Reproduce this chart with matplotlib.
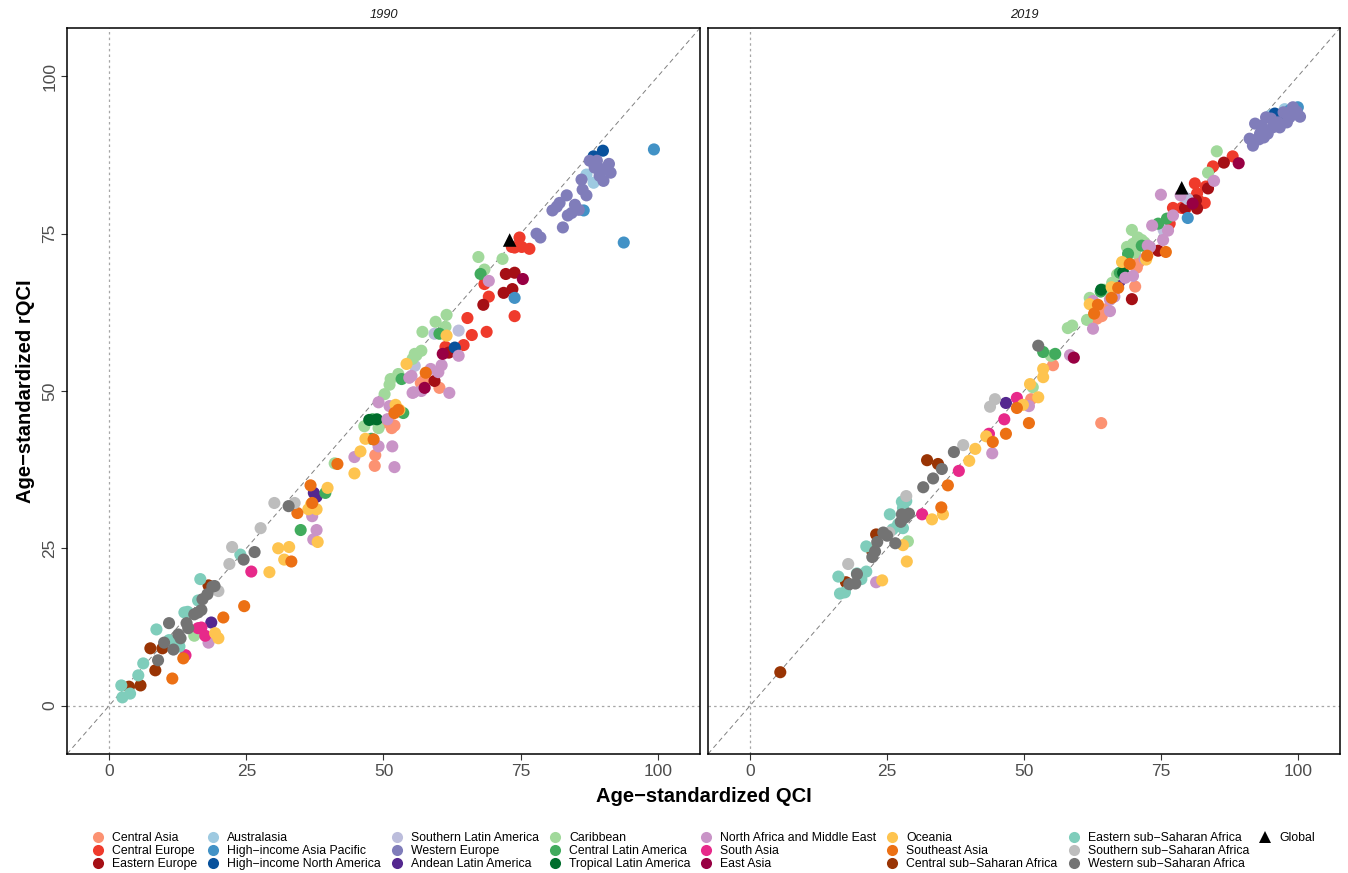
import matplotlib
matplotlib.use("Agg")
import matplotlib.pyplot as plt
from matplotlib.lines import Line2D

plt.rcParams['font.family'] = ['Liberation Sans', 'DejaVu Sans']

# ---------------- legend / region definitions ----------------
region_names = [
    "Central Asia", "Central Europe", "Eastern Europe",
    "Australasia", "High−income Asia Pacific", "High−income North America",
    "Southern Latin America", "Western Europe", "Andean Latin America",
    "Caribbean", "Central Latin America", "Tropical Latin America",
    "North Africa and Middle East", "South Asia", "East Asia",
    "Oceania", "Southeast Asia", "Central sub−Saharan Africa",
    "Eastern sub−Saharan Africa", "Southern sub−Saharan Africa", "Western sub−Saharan Africa",
]
region_colors = [
    "#FC9272", "#EF3B2C", "#A50F15",
    "#9ECAE1", "#4292C6", "#08519C",
    "#BCBDDC", "#807DBA", "#54278F",
    "#A1D99B", "#41AB5D", "#006D2C",
    "#C994C7", "#E7298A", "#980043",
    "#FEC44F", "#EC7014", "#993404",
    "#7FCDBB", "#BDBDBD", "#737373",
]

years = ["1990", "2019"]
ticks = [0, 25, 50, 75, 100]

# ---------------- data: (QCI, rQCI) per region, 1990 ----------------
central_asia_1990 = [(56.8, 51.3), (60.2, 50.5), (50.9, 45.5), (51.5, 44.1), (48.5, 39.8),
                     (48.4, 38.1), (50.0, 45.0), (52.0, 44.5), (57.5, 51.8)]
central_europe_1990 = [(74.8, 74.4), (73.9, 72.8), (75.2, 72.9), (76.6, 72.6), (69.2, 65.0),
                       (73.9, 61.9), (65.3, 61.6), (68.8, 59.4), (66.1, 58.9), (64.6, 57.3),
                       (61.3, 57.0), (68.4, 67.0), (73.4, 72.9)]
eastern_europe_1990 = [(72.3, 68.6), (73.9, 68.8), (71.9, 65.6), (73.5, 66.2), (68.2, 63.7),
                       (59.3, 51.6), (61.9, 56.1)]
australasia_1990 = [(87.0, 84.4), (88.3, 83.1)]
hi_asia_pacific_1990 = [(99.3, 88.4), (93.8, 73.6), (86.5, 78.7), (73.9, 64.8)]
hi_north_america_1990 = [(88.3, 87.3), (90.0, 88.2), (63.0, 56.9)]
southern_latam_1990 = [(63.7, 59.6), (59.3, 59.1), (55.7, 54.0)]
western_europe_1990 = [(77.9, 75.0), (78.6, 74.4), (82.7, 76.0), (80.8, 78.7), (82.1, 79.9),
                       (83.4, 81.1), (84.9, 79.6), (83.6, 77.9), (84.3, 78.3), (85.6, 78.8),
                       (86.3, 82.0), (86.1, 83.6), (88.5, 85.5), (89.4, 84.2), (90.1, 83.4),
                       (91.1, 86.1), (91.4, 84.7), (89.4, 85.2), (87.6, 86.6), (81.6, 79.3),
                       (88.9, 86.6), (90.5, 85.4), (87.0, 81.1)]
andean_latam_1990 = [(37.8, 33.2), (37.3, 33.8), (18.6, 13.2)]
caribbean_1990 = [(67.3, 71.3), (71.7, 71.0), (68.4, 69.3), (61.5, 62.1), (59.5, 61.0),
                  (61.3, 60.2), (57.1, 59.4), (56.9, 56.4), (56.0, 55.7), (55.3, 55.1),
                  (52.7, 52.7), (51.3, 51.9), (51.1, 51.0), (50.2, 49.5), (46.5, 44.4),
                  (49.1, 44.1), (41.1, 38.5), (15.5, 11.1), (55.7, 55.9)]
central_latam_1990 = [(67.7, 68.6), (60.2, 59.1), (53.3, 51.9), (53.6, 46.5), (48.0, 45.5),
                      (39.4, 33.8), (34.9, 27.9), (47.8, 42.4)]
tropical_latam_1990 = [(47.4, 45.4), (48.8, 45.5)]
name_1990 = [(69.2, 67.5), (63.7, 55.6), (60.6, 54.1), (58.6, 53.5), (55.1, 52.4),
             (55.5, 49.8), (56.9, 50.0), (62.0, 49.7), (49.1, 48.2), (51.1, 47.6),
             (50.7, 45.5), (51.6, 41.2), (52.0, 37.9), (44.7, 39.5), (49.1, 41.2),
             (55.3, 49.7), (54.7, 52.1), (37.0, 30.1), (37.8, 27.9), (37.2, 26.4),
             (18.1, 10.0), (60.0, 53.0)]
south_asia_1990 = [(25.9, 21.3), (16.8, 12.4), (17.5, 11.1), (13.9, 8.0), (16.2, 12.3)]
east_asia_1990 = [(75.4, 67.8), (60.8, 55.9), (57.5, 50.5)]
oceania_1990 = [(61.5, 58.8), (54.2, 54.3), (52.2, 47.8), (46.7, 42.4), (45.8, 40.4),
                (44.7, 36.9), (39.8, 34.6), (37.8, 31.2), (36.3, 31.2), (38.0, 26.0),
                (30.8, 25.0), (32.8, 25.2), (31.9, 23.2), (29.2, 21.2), (19.3, 11.5),
                (19.9, 10.7), (52.9, 47.0), (36.8, 32.0)]
southeast_asia_1990 = [(57.7, 52.9), (52.7, 47.0), (41.6, 38.4), (36.7, 35.0), (37.0, 32.2),
                       (34.3, 30.6), (33.2, 22.9), (24.6, 15.8), (20.8, 14.0), (13.5, 7.5),
                       (11.5, 4.3), (52.0, 46.5), (48.2, 42.3)]
central_ssa_1990 = [(18.1, 19.1), (9.7, 9.1), (7.5, 9.1), (8.4, 5.6), (5.7, 3.2), (3.6, 3.0)]
eastern_ssa_1990 = [(23.9, 24.0), (16.6, 20.1), (16.2, 16.7), (13.7, 14.8), (14.3, 14.9),
                    (8.6, 12.1), (10.9, 10.4), (12.8, 9.4), (6.2, 6.7), (5.3, 4.8),
                    (2.2, 3.2), (3.8, 1.9), (2.4, 1.3), (12.5, 10.0)]
southern_ssa_1990 = [(30.1, 32.2), (33.8, 32.2), (27.6, 28.2), (22.4, 25.2), (21.9, 22.5),
                     (19.9, 18.2)]
western_ssa_1990 = [(32.7, 31.7), (26.5, 24.4), (24.5, 23.2), (18.8, 18.9), (17.9, 17.7),
                    (17.0, 16.9), (16.2, 14.8), (14.1, 13.1), (10.9, 13.1), (12.6, 11.3),
                    (13.0, 10.7), (10.0, 10.0), (11.7, 8.9), (8.9, 7.2), (14.4, 12.3),
                    (16.8, 15.2), (19.2, 19.0), (15.5, 14.5)]
global_1990 = [(73.0, 74.0)]

# ---------------- data: (QCI, rQCI) per region, 2019 ----------------
central_asia_2019 = [(70.6, 69.6), (70.3, 66.6), (64.2, 61.9), (63.3, 61.5), (55.3, 54.1),
                     (51.3, 48.7), (64.1, 44.9), (71.0, 70.5), (65.0, 63.0)]
central_europe_2019 = [(88.1, 87.3), (84.5, 85.7), (81.2, 83.0), (81.6, 81.4), (83.2, 82.5),
                       (83.0, 79.9), (77.2, 79.1), (78.8, 79.1), (76.6, 76.6), (76.2, 75.6),
                       (80.0, 80.5), (82.0, 80.2), (79.5, 79.0)]
eastern_europe_2019 = [(86.5, 86.3), (83.6, 82.2), (81.4, 80.3), (81.6, 79.0), (79.4, 79.1),
                       (74.5, 72.3), (69.7, 64.6)]
australasia_2019 = [(97.6, 94.8), (95.0, 93.8)]
hi_asia_pacific_2019 = [(100.0, 95.1), (95.4, 93.3), (79.9, 77.5), (98.5, 94.6)]
hi_north_america_2019 = [(95.8, 94.1), (97.3, 94.0), (96.6, 93.4)]
southern_latam_2019 = [(75.5, 75.6), (79.2, 80.9), (79.9, 80.5)]
western_europe_2019 = [(92.2, 92.5), (94.2, 93.5), (94.3, 91.4), (93.1, 90.9), (92.0, 89.8),
                       (91.8, 89.0), (95.4, 91.9), (96.7, 91.9), (98.0, 92.7), (99.1, 95.1),
                       (100.4, 93.6), (98.5, 93.5), (96.4, 92.7), (94.5, 90.9), (92.9, 90.0),
                       (93.4, 92.2), (97.4, 94.3), (95.1, 93.3), (99.8, 94.4), (91.2, 90.1),
                       (93.8, 90.3)]
andean_latam_2019 = [(67.5, 67.5), (46.7, 48.1), (67.2, 67.0)]
caribbean_2019 = [(85.2, 88.1), (83.6, 84.7), (69.7, 75.6), (70.8, 74.4), (69.9, 73.4),
                  (68.8, 72.9), (71.5, 74.0), (66.1, 67.2), (64.6, 66.1), (62.0, 64.8),
                  (58.8, 60.4), (58.0, 60.0), (61.5, 61.3), (54.9, 55.6), (51.6, 50.6),
                  (28.8, 26.1), (70.3, 72.0), (72.0, 73.6), (67.0, 68.5)]
central_latam_2019 = [(74.5, 76.6), (76.1, 77.4), (71.5, 73.1), (69.0, 71.8), (69.0, 70.4),
                      (53.5, 56.2), (55.7, 55.9), (64.0, 65.8), (67.5, 68.8)]
tropical_latam_2019 = [(68.1, 68.8), (64.1, 66.1)]
name_2019 = [(75.0, 81.2), (78.6, 81.1), (84.7, 83.4), (77.2, 77.9), (73.4, 76.3),
             (76.3, 75.5), (75.4, 74.0), (72.6, 73.1), (73.0, 72.9), (69.9, 68.3),
             (62.6, 64.3), (65.7, 64.5), (65.7, 62.7), (62.6, 59.9), (58.4, 55.7),
             (50.9, 47.6), (44.2, 40.1), (23.0, 19.6), (68.5, 68.0), (72.0, 71.0),
             (66.5, 65.0)]
south_asia_2019 = [(48.7, 48.9), (46.4, 45.5), (43.6, 43.2), (38.1, 37.3), (31.4, 30.4)]
east_asia_2019 = [(89.2, 86.2), (59.1, 55.3), (80.8, 79.8)]
oceania_2019 = [(67.9, 70.5), (72.3, 70.9), (53.5, 53.5), (53.5, 52.2), (51.1, 51.1),
                (52.6, 49.0), (49.8, 47.8), (43.1, 42.8), (41.1, 40.8), (40.0, 38.9),
                (33.2, 29.6), (35.2, 30.4), (27.9, 25.5), (28.6, 22.9), (24.1, 19.9),
                (62.0, 63.8), (66.0, 66.5)]
southeast_asia_2019 = [(69.3, 70.2), (75.9, 72.1), (63.5, 63.7), (62.8, 62.3), (67.2, 66.4),
                       (48.7, 47.3), (46.7, 43.2), (44.3, 41.9), (50.9, 44.9), (36.1, 35.0),
                       (34.9, 31.5), (66.0, 64.8), (72.5, 71.5)]
central_ssa_2019 = [(32.3, 39.0), (34.3, 38.4), (23.0, 27.2), (22.3, 24.5), (17.5, 19.6),
                    (5.5, 5.3)]
eastern_ssa_2019 = [(27.9, 31.4), (27.7, 32.4), (25.5, 30.4), (27.0, 28.8), (27.9, 28.2),
                    (21.2, 25.3), (21.2, 21.3), (16.1, 20.5), (20.3, 20.1), (16.4, 17.8),
                    (17.3, 18.0), (28.5, 32.5), (19.5, 21.0), (26.0, 28.0)]
southern_ssa_2019 = [(44.7, 48.7), (43.8, 47.5), (38.9, 41.4), (28.5, 33.3), (25.4, 27.5),
                     (17.9, 22.5)]
western_ssa_2019 = [(52.6, 57.2), (37.2, 40.3), (35.0, 37.6), (33.4, 36.1), (31.6, 34.7),
                    (27.7, 30.4), (28.3, 29.9), (24.3, 27.5), (23.2, 26.0), (26.5, 25.8),
                    (22.3, 23.6), (19.5, 20.9), (19.2, 19.4), (18.1, 19.3), (25.0, 27.0),
                    (27.5, 29.2), (22.8, 24.5), (29.0, 30.5)]
global_2019 = [(78.8, 82.3)]

series_1990 = [central_asia_1990, central_europe_1990, eastern_europe_1990,
               australasia_1990, hi_asia_pacific_1990, hi_north_america_1990,
               southern_latam_1990, western_europe_1990, andean_latam_1990,
               caribbean_1990, central_latam_1990, tropical_latam_1990,
               name_1990, south_asia_1990, east_asia_1990,
               oceania_1990, southeast_asia_1990, central_ssa_1990,
               eastern_ssa_1990, southern_ssa_1990, western_ssa_1990]
series_2019 = [central_asia_2019, central_europe_2019, eastern_europe_2019,
               australasia_2019, hi_asia_pacific_2019, hi_north_america_2019,
               southern_latam_2019, western_europe_2019, andean_latam_2019,
               caribbean_2019, central_latam_2019, tropical_latam_2019,
               name_2019, south_asia_2019, east_asia_2019,
               oceania_2019, southeast_asia_2019, central_ssa_2019,
               eastern_ssa_2019, southern_ssa_2019, western_ssa_2019]
series_by_year = [series_1990, series_2019]
global_by_year = [global_1990, global_2019]

# ---------------- figure ----------------
W, H = 1348, 873
fig = plt.figure(figsize=(W / 100, H / 100), dpi=100)

panel_px = [(67, 700), (708, 1340)]
top_px, bot_px = 28, 754
lims = (-7.7, 107.7)
tick_col = "#4D4D4D"

for i, (x0, x1) in enumerate(panel_px):
    ax = fig.add_axes([x0 / W, 1 - bot_px / H, (x1 - x0) / W, (bot_px - top_px) / H])
    ax.set_xlim(*lims)
    ax.set_ylim(*lims)
    ax.axvline(0, color="#A6A6A6", lw=0.9, ls=(0, (2, 2.5)), zorder=1)
    ax.axhline(0, color="#A6A6A6", lw=0.9, ls=(0, (2, 2.5)), zorder=1)
    ax.axline((0, 0), slope=1, color="#808080", lw=0.7, ls=(0, (5, 3.5)), zorder=1)
    for pts, col in zip(series_by_year[i], region_colors):
        xs = [p[0] for p in pts]
        ys = [p[1] for p in pts]
        ax.scatter(xs, ys, s=76, color=col, edgecolors="none", zorder=2)
    g = global_by_year[i]
    ax.scatter([p[0] for p in g], [p[1] for p in g], marker="^", s=95,
               color="black", edgecolors="none", zorder=3)
    ax.set_title(years[i], style="italic", fontsize=9.3, pad=7, color="#1A1A1A")
    ax.set_xticks(ticks)
    ax.set_yticks(ticks)
    for sp in ax.spines.values():
        sp.set_linewidth(1.1)
        sp.set_color("black")
    ax.tick_params(direction="out", length=4, width=0.8, color="#333333",
                   labelsize=12.5, labelcolor=tick_col, pad=3)
    if i == 0:
        for lab in ax.get_yticklabels():
            lab.set_rotation(90)
            lab.set_va("center")
        ax.set_ylabel("Age−standardized rQCI", fontsize=14.5, fontweight="bold", labelpad=5)
    else:
        ax.tick_params(axis="y", left=False, labelleft=False)

fig.text((67 + 1340) / 2 / W, 1 - 797 / H, "Age−standardized QCI", fontsize=14.5,
         fontweight="bold", ha="center", va="center")

# ---------------- legend ----------------
handles = []
labels = []
for name, col in zip(region_names, region_colors):
    handles.append(Line2D([], [], marker="o", ls="none", color=col, markersize=8,
                          markeredgewidth=0))
    labels.append(name)
handles.append(Line2D([], [], marker="^", ls="none", color="black", markersize=9,
                      markeredgewidth=0))
labels.append("Global")
for _ in range(2):
    handles.append(Line2D([], [], ls="none"))
    labels.append("")

leg = fig.legend(handles, labels, ncol=8, loc="upper left",
                 bbox_to_anchor=(92 / W, 1 - 832 / H), frameon=False,
                 fontsize=8.8, handlelength=1.0, handletextpad=0.65,
                 columnspacing=0.8, labelspacing=0.1, borderpad=0, borderaxespad=0)

fig.savefig("out.png", dpi=100)
